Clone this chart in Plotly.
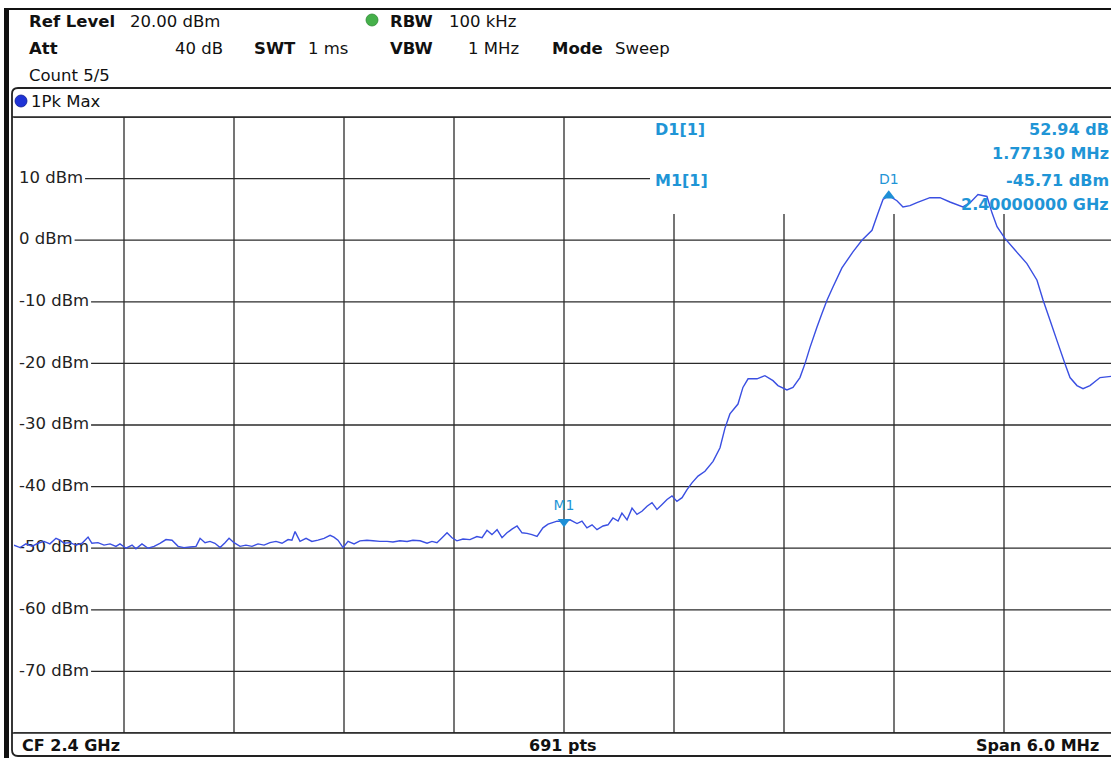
import plotly.graph_objects as go

W, H = 1111, 758

# ---------------- data ----------------
cf_ghz = 2.4
span_mhz = 6.0
n_points = 691

freq_offset_mhz = [
    -3.000, -2.967, -2.935, -2.902, -2.869, -2.836, -2.804, -2.771, -2.749, -2.727,
    -2.695, -2.662, -2.629, -2.596, -2.575, -2.542, -2.509, -2.476, -2.444, -2.422,
    -2.389, -2.356, -2.335, -2.302, -2.269, -2.236, -2.204, -2.171, -2.138, -2.105,
    -2.073, -2.040, -2.007, -1.985, -1.958, -1.931, -1.904, -1.876, -1.849, -1.827,
    -1.800, -1.767, -1.735, -1.702, -1.669, -1.636, -1.604, -1.571, -1.538, -1.505,
    -1.484, -1.467, -1.440, -1.407, -1.375, -1.342, -1.309, -1.276, -1.255, -1.233,
    -1.205, -1.178, -1.145, -1.113, -1.075, -1.042, -1.004, -0.965, -0.933, -0.895,
    -0.856, -0.824, -0.785, -0.747, -0.720, -0.693, -0.665, -0.638, -0.611, -0.584,
    -0.551, -0.513, -0.475, -0.447, -0.420, -0.393, -0.365, -0.338, -0.311, -0.284,
    -0.256, -0.229, -0.202, -0.175, -0.147, -0.115, -0.087, -0.038, 0.000, 0.033,
    0.071, 0.098, 0.125, 0.153, 0.180, 0.213, 0.240, 0.267, 0.295, 0.316,
    0.344, 0.371, 0.398, 0.425, 0.453, 0.480, 0.507, 0.535, 0.562, 0.589,
    0.616, 0.644, 0.671, 0.698, 0.731, 0.769, 0.813, 0.851, 0.878, 0.905,
    0.949, 0.976, 1.004, 1.053, 1.096, 1.140, 1.167, 1.216, 1.249, 1.287,
    1.315, 1.342, 1.380, 1.407, 1.435, 1.467, 1.516, 1.576, 1.625, 1.680,
    1.713, 1.740, 1.7713, 1.816, 1.849, 1.887, 1.925, 1.996, 2.051, 2.105,
    2.176, 2.215, 2.258, 2.307, 2.335, 2.362, 2.405, 2.460, 2.525, 2.580,
    2.613, 2.651, 2.689, 2.733, 2.760, 2.798, 2.831, 2.869, 2.924, 2.984,
    3.000,
]

level_dbm = [
    -49.5, -49.9, -49.3, -49.7, -49.2, -48.9, -49.3, -48.4, -48.7, -49.2,
    -49.1, -49.5, -49.2, -48.2, -49.2, -49.1, -49.5, -49.3, -49.7, -49.3,
    -50.0, -49.5, -50.1, -49.3, -50.0, -49.7, -49.2, -48.6, -48.7, -49.7,
    -49.9, -49.8, -49.7, -48.4, -49.1, -48.9, -49.2, -49.9, -49.1, -48.4,
    -49.1, -49.7, -49.5, -49.7, -49.3, -49.5, -49.1, -48.9, -49.2, -48.6,
    -48.7, -47.3, -48.9, -48.4, -48.9, -48.7, -48.4, -47.9, -48.2, -48.7,
    -49.9, -48.9, -49.3, -48.8, -48.7, -48.8, -48.9, -48.9, -49.0, -48.8,
    -48.9, -48.7, -48.8, -49.2, -48.9, -49.1, -48.3, -47.5, -48.3, -48.8,
    -48.5, -48.6, -48.1, -48.3, -47.1, -47.8, -47.0, -48.3, -47.5, -46.9,
    -46.4, -47.5, -47.6, -47.8, -48.1, -46.7, -46.1, -45.6, -45.71, -45.4,
    -46.0, -45.6, -46.7, -46.2, -47.0, -46.4, -46.2, -45.1, -45.6, -44.3,
    -45.4, -43.5, -44.5, -44.0, -43.2, -42.6, -43.7, -42.9, -42.1, -41.5,
    -42.4, -41.8, -40.5, -39.4, -38.3, -37.5, -35.9, -33.7, -30.5, -28.2,
    -26.6, -23.9, -22.5, -22.5, -22.0, -22.8, -23.6, -24.3, -23.9, -22.3,
    -20.0, -17.4, -14.1, -11.9, -9.7, -7.6, -4.5, -1.9, 0.0, 1.6,
    4.4, 6.6, 7.23, 6.4, 5.4, 5.6, 6.1, 6.9, 6.9, 6.2,
    5.4, 6.1, 7.4, 7.1, 4.4, 2.2, 0.3, -1.6, -3.8, -6.5,
    -9.7, -13.0, -16.3, -20.1, -22.3, -23.6, -24.1, -23.6, -22.3, -22.1,
    -22.1,
]

grid_levels_dbm = [20, 10, 0, -10, -20, -30, -40, -50, -60, -70, -80]
label_levels_dbm = [10, 0, -10, -20, -30, -40, -50, -60, -70]
grid_freq_mhz = [-2.4, -1.8, -1.2, -0.6, 0.0, 0.6, 1.2, 1.8, 2.4]

m1_freq_mhz, m1_level_dbm = 0.0, -45.71
d1_delta_mhz, d1_delta_db = 1.7713, 52.94

# ---------------- geometry helpers ----------------
PLOT_L, PLOT_R_FULL = 14, 1114      # plot area in px (right edge is cropped)
PLOT_T, PLOT_B = 117, 733
MHZ_PER_PX = span_mhz / (PLOT_R_FULL - PLOT_L)


def px(x):
    return x / W


def py(y):
    return 1 - y / H


def xdata(pxx):
    return -span_mhz / 2 + (pxx - PLOT_L) * MHZ_PER_PX


DB_PER_PX = 100 / (PLOT_B - PLOT_T)


def ydata(pyy):
    return 20 - (pyy - PLOT_T) * DB_PER_PX


FONT = "DejaVu Sans, Verdana, sans-serif"
BLUE_TXT = "#1f95d6"
TRACE = "#3a4fe2"
GRID = "#2b2b2b"
FS = 16.5

fig = go.Figure()

# y level labels (drawn under the trace)
label_x = xdata(19)
fig.add_trace(go.Scatter(
    x=[label_x] * len(label_levels_dbm), y=label_levels_dbm,
    mode="text", text=[f"{v} dBm" for v in label_levels_dbm],
    textposition="middle right", textfont=dict(family=FONT, size=FS, color="#222"),
    hoverinfo="skip", showlegend=False, cliponaxis=False,
))

# main trace
fig.add_trace(go.Scatter(
    x=freq_offset_mhz, y=level_dbm, mode="lines",
    line=dict(color=TRACE, width=1.4, simplify=False),
    showlegend=False, hoverinfo="skip",
))

# markers
d1_freq = m1_freq_mhz + d1_delta_mhz
d1_level = m1_level_dbm + d1_delta_db
fig.add_trace(go.Scatter(
    x=[m1_freq_mhz], y=[m1_level_dbm], mode="markers+text", text=["M1"],
    textposition="top center", textfont=dict(family=FONT, size=14, color=BLUE_TXT),
    marker=dict(symbol="triangle-down", size=11, color="#1e8fd6"),
    showlegend=False, hoverinfo="skip", cliponaxis=False,
))
fig.add_trace(go.Scatter(
    x=[d1_freq], y=[d1_level], mode="markers+text", text=["D1"],
    textposition="top center", textfont=dict(family=FONT, size=14, color=BLUE_TXT),
    marker=dict(symbol="triangle-up", size=11, color="#1e8fd6"),
    showlegend=False, hoverinfo="skip", cliponaxis=False,
))

# ---------------- grid as shapes ----------------
CHW = {"-": 0.361, " ": 0.318, "d": 0.635, "B": 0.686, "m": 0.974}
shapes = []
info_left_px = 650
info_bottom_px = 214
for lv in grid_levels_dbm:
    if lv in label_levels_dbm:
        txt = f"{lv} dBm"
        w = sum(CHW.get(c, 0.636) for c in txt) * FS
        x0 = xdata(19 + 3 + w - 1)
    else:
        x0 = xdata(PLOT_L)
    x1 = xdata(info_left_px) if lv == 10 else xdata(PLOT_R_FULL)
    shapes.append(dict(type="line", xref="x", yref="y", x0=x0, x1=x1, y0=lv, y1=lv,
                       line=dict(color=GRID, width=1.3), layer="below"))
for fq in grid_freq_mhz:
    ytop = ydata(info_bottom_px) if fq > 0.3 else 20
    shapes.append(dict(type="line", xref="x", yref="y", x0=fq, x1=fq, y0=-80, y1=ytop,
                       line=dict(color=GRID, width=1.3), layer="below"))


def pline(x0, y0, x1, y1, w=1.5, c="#222"):
    shapes.append(dict(type="line", xref="paper", yref="paper",
                       x0=px(x0), y0=py(y0), x1=px(x1), y1=py(y1),
                       line=dict(color=c, width=w)))

# outer top line and left thick bar
pline(4, 9, 1111, 9, 1.8, "#111")
shapes.append(dict(type="rect", xref="paper", yref="paper", x0=px(4), x1=px(9),
                   y0=py(758), y1=py(9), fillcolor="#111", line=dict(width=0)))
# inner frame with rounded corners
r = 6
path = (f"M {px(1111)},{py(88)} L {px(12 + r)},{py(88)} "
        f"Q {px(12)},{py(88)} {px(12)},{py(88 + r)} "
        f"L {px(12)},{py(756 - r)} Q {px(12)},{py(756)} {px(12 + r)},{py(756)} "
        f"L {px(1111)},{py(756)}")
shapes.append(dict(type="path", xref="paper", yref="paper", path=path,
                   line=dict(color="#222", width=1.8)))
pline(12, 117, 1111, 117, 1.5)
pline(12, 733, 1111, 733, 1.5)

# status dots
shapes.append(dict(type="circle", xref="paper", yref="paper",
                   x0=px(366), x1=px(378), y0=py(26), y1=py(14),
                   fillcolor="#45b04a", line=dict(color="#2f8a35", width=0.8)))
shapes.append(dict(type="circle", xref="paper", yref="paper",
                   x0=px(15), x1=px(27), y0=py(107), y1=py(95),
                   fillcolor="#1f33d6", line=dict(color="#0c1a90", width=0.8)))

fig.update_layout(shapes=shapes)

# ---------------- text annotations ----------------
ann = []


def text(x, y, s, bold=False, anchor="left", color="#111", size=FS):
    ann.append(dict(xref="paper", yref="paper", x=px(x), y=py(y), text=(f"<b>{s}</b>" if bold else s),
                    showarrow=False, xanchor=anchor, yanchor="middle",
                    font=dict(family=FONT, size=size, color=color)))

# header
text(27, 21, "Ref Level", bold=True)
text(128, 21, "20.00 dBm")
text(388, 21, "RBW", bold=True)
text(447, 21, "100 kHz")
text(27, 49, "Att", bold=True)
text(225, 49, "40 dB", anchor="right")
text(252, 49, "SWT", bold=True)
text(306, 49, "1 ms")
text(388, 49, "VBW", bold=True)
text(521, 49, "1 MHz", anchor="right")
text(550, 49, "Mode", bold=True)
text(613, 49, "Sweep")
text(27, 75, "Count 5/5")
text(29, 101, "1Pk Max")

# marker info
text(653, 129, "D1[1]", bold=True, color=BLUE_TXT, size=16)
text(653, 180, "M1[1]", bold=True, color=BLUE_TXT, size=16)
text(1111, 129, f"{d1_delta_db:.2f} dB", bold=True, anchor="right", color=BLUE_TXT, size=16)
text(1111, 153, f"{d1_delta_mhz:.5f} MHz", bold=True, anchor="right", color=BLUE_TXT, size=16)
text(1111, 180, f"{m1_level_dbm:.2f} dBm", bold=True, anchor="right", color=BLUE_TXT, size=16)
text(1111, 204, f"{cf_ghz + m1_freq_mhz / 1000:.8f} GHz", bold=True, anchor="right", color=BLUE_TXT, size=16)

# footer
text(20, 745, f"CF {cf_ghz} GHz", bold=True, size=16)
text(563, 745, f"{n_points} pts", bold=True, anchor="center", size=16)
text(1101, 745, f"Span {span_mhz} MHz", bold=True, anchor="right", size=16)

fig.update_layout(
    annotations=ann,
    width=W, height=H,
    margin=dict(l=0, r=0, t=0, b=0),
    paper_bgcolor="white", plot_bgcolor="white",
    showlegend=False,
    xaxis=dict(domain=[px(PLOT_L), 1], range=[xdata(PLOT_L), xdata(W)],
               showgrid=False, zeroline=False, showticklabels=False, showline=False, fixedrange=True),
    yaxis=dict(domain=[py(PLOT_B), py(PLOT_T)], range=[-80, 20],
               showgrid=False, zeroline=False, showticklabels=False, showline=False, fixedrange=True),
)

fig.write_html(
    "out.html",
    config={"displayModeBar": False},
    post_script="document.body.style.margin='0px';document.body.style.overflow='hidden';",
)
